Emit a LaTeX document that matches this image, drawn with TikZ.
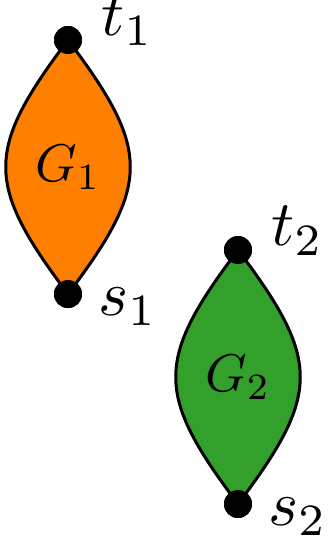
\documentclass[tikz,border=0pt]{standalone}
\usetikzlibrary{positioning,calc}
\definecolor{lensorange}{RGB}{255,127,0}
\definecolor{lensgreen}{RGB}{51,160,44}
\tikzset{
  term/.style={circle, fill=black, minimum size=28pt, inner sep=0pt},
  termlabel/.style={inner sep=0pt, scale=6.4},
  lens/.style={draw=black, line width=3pt, line join=round},
  graphlabel/.style={inner sep=0pt, scale=5.3}
}

\begin{document}
\begin{tikzpicture}[x=1pt,y=1pt]
\useasboundingbox (0,0) rectangle (333,-539);
\node[term] (t1) at (68,-40) {};
\node[term] (s1) at (68,-294) {};
\node[term] (t2) at (238,-250) {};
\node[term] (s2) at (238,-504) {};
% the two lenses, drawn under the terminals
\fill[lensorange] (t1.center) .. controls +(-83,-110) and +(-83,110) .. (s1.center)
  .. controls +(83,110) and +(83,-110) .. (t1.center);
\draw[lens] (t1.center) .. controls +(-83,-110) and +(-83,110) .. (s1.center)
  .. controls +(83,110) and +(83,-110) .. (t1.center);
\fill[lensgreen] (t2.center) .. controls +(-83,-110) and +(-83,110) .. (s2.center)
  .. controls +(83,110) and +(83,-110) .. (t2.center);
\draw[lens] (t2.center) .. controls +(-83,-110) and +(-83,110) .. (s2.center)
  .. controls +(83,110) and +(83,-110) .. (t2.center);
\node[term] at (t1) {};
\node[term] at (s1) {};
\node[term] at (t2) {};
\node[term] at (s2) {};
\node[graphlabel] (g1) at ($(t1)!0.5!(s1)$) {$G_1$};
\node[graphlabel] (g2) at ($(t2)!0.5!(s2)$) {$G_2$};
\node[termlabel, right=18pt of t1, yshift=3pt] (t1lab) {$t_1$};
\node[termlabel, right=15pt of s1, yshift=-2pt] (s1lab) {$s_1$};
\node[termlabel, right=18pt of t2, yshift=3pt] (t2lab) {$t_2$};
\node[termlabel, right=15pt of s2, yshift=-2pt] (s2lab) {$s_2$};
\end{tikzpicture}
\end{document}
